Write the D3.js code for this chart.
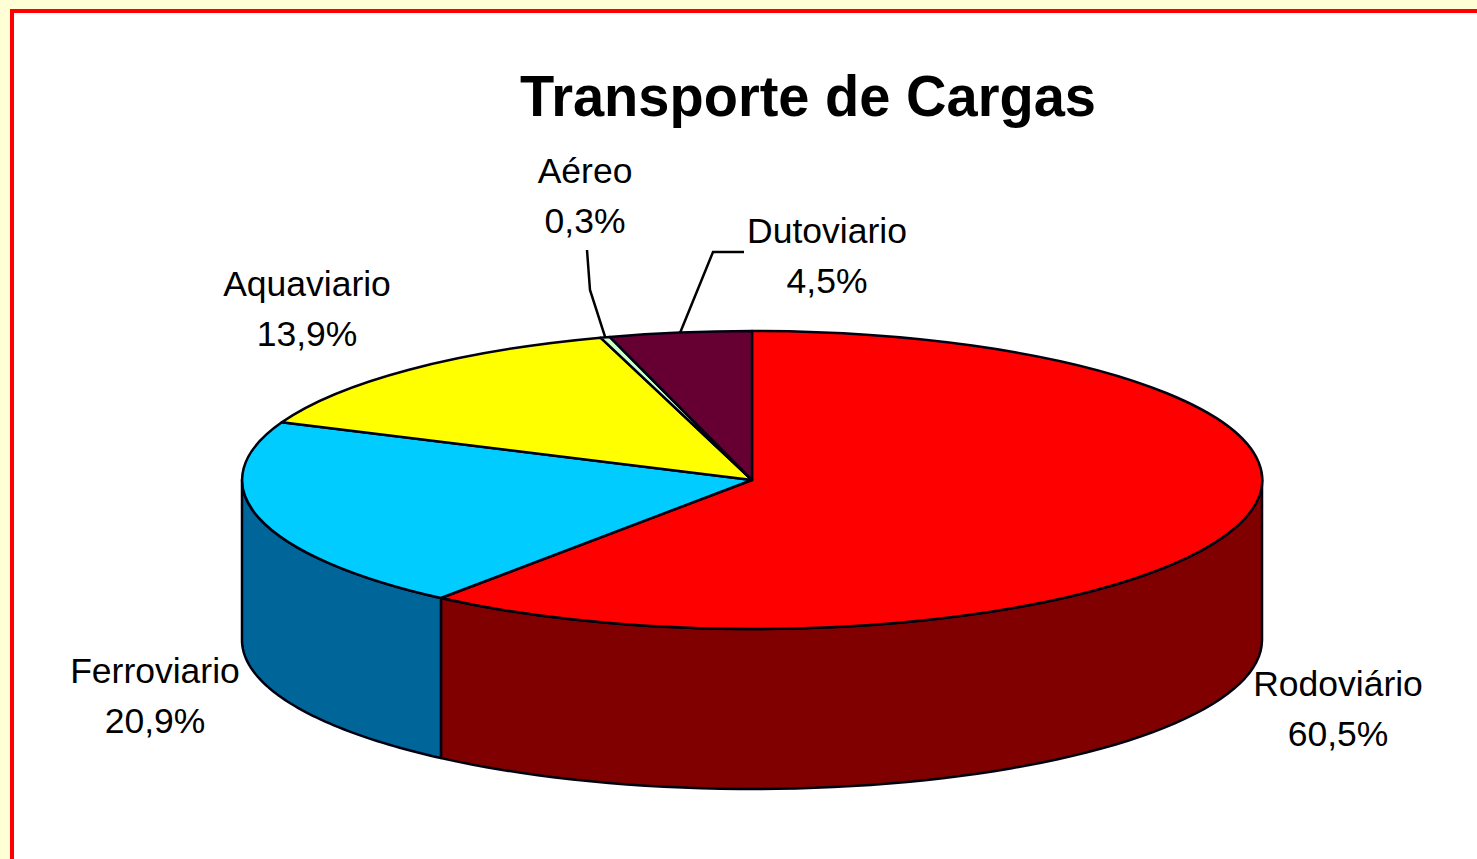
<!DOCTYPE html>
<meta charset="utf-8">

<head>
  <title>Transporte de Cargas</title>
  <style>
    html, body {
      margin: 0;
      padding: 0;
      background: #ffffd6;
      overflow: hidden;
    }
    svg {
      display: block;
    }
    text {
      font-family: "Liberation Sans", Arial, sans-serif;
      fill: #000;
    }
  </style>
  <script src="https://d3js.org/d3.v7.min.js"></script>
</head>

<body>
  <div id="content"></div>

  <script>
    var title = 'Transporte de Cargas';
    var categories = ['Rodoviário', 'Ferroviario', 'Aquaviario', 'Aéreo', 'Dutoviario'];
    var values = [60.5, 20.9, 13.9, 0.3, 4.5];
    var valueLabels = ['60,5%', '20,9%', '13,9%', '0,3%', '4,5%'];

    var topColors = ['#ff0000', '#00ccff', '#ffff00', '#ccffcc', '#660033'];
    var wallColors = ['#800000', '#006699', '#808000', '#669966', '#330019'];

    var width = 1477, height = 859;
    var cx = 752, cy = 480, rx = 510, ry = 149, depth = 160;

    // label centres, x / y of the first line
    var labelPos = [[1338, 683], [155, 670], [307, 283], [585, 170], [827, 230]];

    var svg = d3.select('#content').append('svg')
      .attr('width', width)
      .attr('height', height);

    // page frame
    svg.append('rect')
      .attr('x', 12).attr('y', 11)
      .attr('width', width).attr('height', height)
      .attr('fill', '#fff')
      .attr('stroke', '#ff0000')
      .attr('stroke-width', 4);

    var rows = categories.map(function (c, i) {
      return { name: c, value: values[i], label: valueLabels[i], i: i };
    });

    var pie = d3.pie().sort(null).value(function (d) { return d.value; });
    var slices = pie(rows);

    var arc = d3.arc().innerRadius(0).outerRadius(1);

    function px(a) { return cx + rx * Math.sin(a); }
    function py(a) { return cy - ry * Math.cos(a); }

    // Walls, only the front half of the ellipse can be seen
    var front0 = Math.PI / 2, front1 = Math.PI * 3 / 2;

    function wallPath(d) {
      var a0 = Math.max(d.startAngle, front0);
      var a1 = Math.min(d.endAngle, front1);
      if (a1 <= a0) return null;
      var angles = d3.range(0, 61).map(function (k) { return a0 + (a1 - a0) * k / 60; });
      var upper = angles.map(function (a) { return [px(a), py(a)]; });
      var lower = angles.slice().reverse().map(function (a) { return [px(a), py(a) + depth]; });
      return d3.line()(upper.concat(lower)) + 'Z';
    }

    svg.append('g').selectAll('path')
      .data(slices)
      .join('path')
      .attr('d', wallPath)
      .attr('fill', function (d) { return wallColors[d.data.i]; })
      .attr('stroke', '#000010')
      .attr('stroke-width', 2.5)
      .attr('stroke-linejoin', 'round');

    // Top of the pie: unit circle arcs squashed to the ellipse
    svg.append('g')
      .attr('transform', 'translate(' + cx + ',' + cy + ') scale(' + rx + ',' + ry + ')')
      .selectAll('path')
      .data(slices)
      .join('path')
      .attr('d', arc)
      .attr('fill', function (d) { return topColors[d.data.i]; })
      .attr('stroke', '#000010')
      .attr('stroke-width', 2.5)
      .attr('vector-effect', 'non-scaling-stroke')
      .attr('stroke-linejoin', 'round');

    // Leader lines
    function midPoint(i) {
      var a = (slices[i].startAngle + slices[i].endAngle) / 2;
      return [px(a), py(a)];
    }
    var leaders = [
      [[587, 250], [590, 290], midPoint(3)],
      [[744, 252], [713, 252], midPoint(4)]
    ];
    svg.append('g').selectAll('path')
      .data(leaders)
      .join('path')
      .attr('d', d3.line())
      .attr('fill', 'none')
      .attr('stroke', '#000')
      .attr('stroke-width', 2.5);

    // Labels
    var labels = svg.append('g').selectAll('g')
      .data(rows)
      .join('g')
      .attr('transform', function (d) {
        return 'translate(' + labelPos[d.i][0] + ',' + labelPos[d.i][1] + ')';
      })
      .attr('text-anchor', 'middle')
      .style('font-size', '35.5px');

    labels.append('text')
      .attr('y', 13)
      .text(function (d) { return d.name; });
    labels.append('text')
      .attr('y', 63)
      .text(function (d) { return d.label; });

    svg.append('text')
      .attr('x', 808)
      .attr('y', 116)
      .attr('text-anchor', 'middle')
      .attr('textLength', 576)
      .attr('lengthAdjust', 'spacingAndGlyphs')
      .style('font-size', '58px')
      .style('font-weight', 'bold')
      .text(title);
  </script>
</body>

</html>
